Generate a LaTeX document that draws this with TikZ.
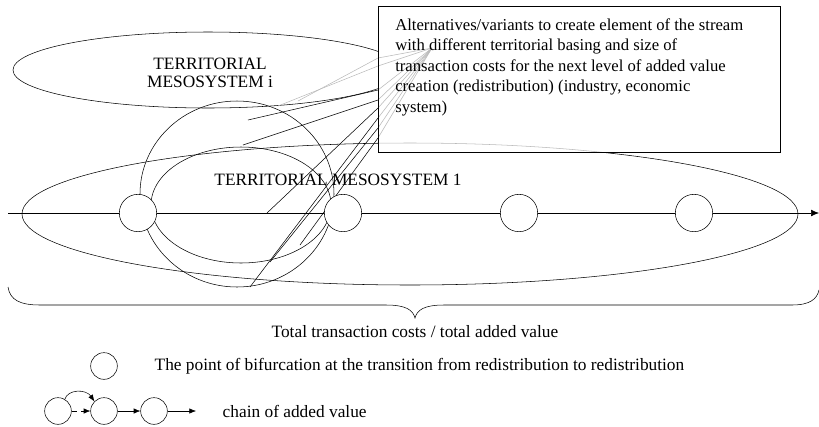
\documentclass[tikz,border=0pt]{standalone}
\usepackage{fontspec}
\setmainfont{Liberation Serif}
\usetikzlibrary{arrows.meta,positioning}
\begin{document}
\begin{tikzpicture}[x=0.75pt,y=-0.75pt,
    every node/.style={font=\fontsize{13}{15.4}\selectfont},
    bif/.style={circle,draw,fill=white,minimum size=28pt,inner sep=0pt},
    lgd/.style={circle,draw,fill=white,minimum size=20pt,inner sep=0pt},
    tip/.style={-{Latex[length=5pt,width=4pt]}},
    faint/.style={gray!55}]
    \useasboundingbox (0,0) rectangle (819,426);

    % Territorial mesosystems
    \draw (208,70) ellipse [x radius=195, y radius=38];
    \node[align=center,font=\fontsize{13}{13}\selectfont] (mesoi) at (210,73) {TERRITORIAL\\MESOSYSTEM i};
    \draw (410,214) ellipse [x radius=388, y radius=71];
    \node (mesoone) at (338,180) {TERRITORIAL MESOSYSTEM 1};

    % Variants round the first point
    \draw (237,194) ellipse [x radius=97, y radius=93];
    \draw (241,205) ellipse [x radius=90, y radius=58];

    % Fan of variants
    \coordinate (apex) at (432,48);
    \foreach \ex/\ey/\py in {248/120/90, 243/145/100, 267/213/108, 250/287/118, 270/262/128, 300/245/138} {
        \draw (\ex,\ey) -- (378,\py);
    }
    \foreach \ex/\ey/\py in {278/106/66, 298/101/58} {
        \draw[faint] (\ex,\ey) -- (378,\py);
    }

    % Box of alternatives
    \node[draw,fill=white,anchor=north west,minimum width=301.5pt,minimum height=109.5pt] (alt) at (378,6) {};
    \begin{scope}
        \clip (alt.south west) rectangle (alt.north east);
        \draw[faint] (410,214) ellipse [x radius=388, y radius=71];
        \foreach \py in {58,66,90,100,108,118,128,138} {
            \draw[faint] (378,\py) -- (apex);
        }
    \end{scope}
    \draw (alt.north west) rectangle (alt.south east);
    \node[anchor=north west,align=left,inner sep=0pt,font=\fontsize{12.5}{15.4}\selectfont] (alttext) at (395,18)
        {Alternatives/variants to create element of the stream\\
         with different territorial basing and size of\\
         transaction costs for the next level of added value\\
         creation (redistribution) (industry, economic\\
         system)};

    % Axis with bifurcation points
    \coordinate (axstart) at (8,213);
    \coordinate (axend) at (819,213);
    \draw[-{Latex[length=6pt,width=5pt]}] (axstart) -- (axend);
    \foreach \n/\x in {1/138,2/343,3/519,4/694} {
        \node[bif] (b\n) at (\x,213) {};
    }

    % Brace
    \draw (8,287) .. controls (10,300) and (20,305) .. (40,305) -- (386,305)
        .. controls (406,305) and (413,310) .. (415,318)
        .. controls (417,310) and (424,305) .. (444,305) -- (792,305)
        .. controls (810,305) and (817,299) .. (819,290);
    \node (total) at (415,332) {Total transaction costs / total added value};

    % Legend
    \node[lgd] (lg) at (104,366) {};
    \node[anchor=west] (lgtext) at (150,366) {The point of bifurcation at the transition from redistribution to redistribution};
    \node[lgd] (c1) at (58,411) {};
    \node[lgd] (c2) at (104,411) {};
    \node[lgd] (c3) at (154,411) {};
    \coordinate (cend) at (196,411);
    \draw[tip,dash pattern=on 4pt off 3pt] (c1) -- (c2);
    \draw[tip] (c2) -- (c3);
    \draw[tip] (c3) -- (cend);
    \draw[tip] (c1.60) .. controls (68,389) and (86,389) .. (c2.north west);
    \node[anchor=west] (chaintext) at (218,411) {chain of added value};
\end{tikzpicture}
\end{document}
